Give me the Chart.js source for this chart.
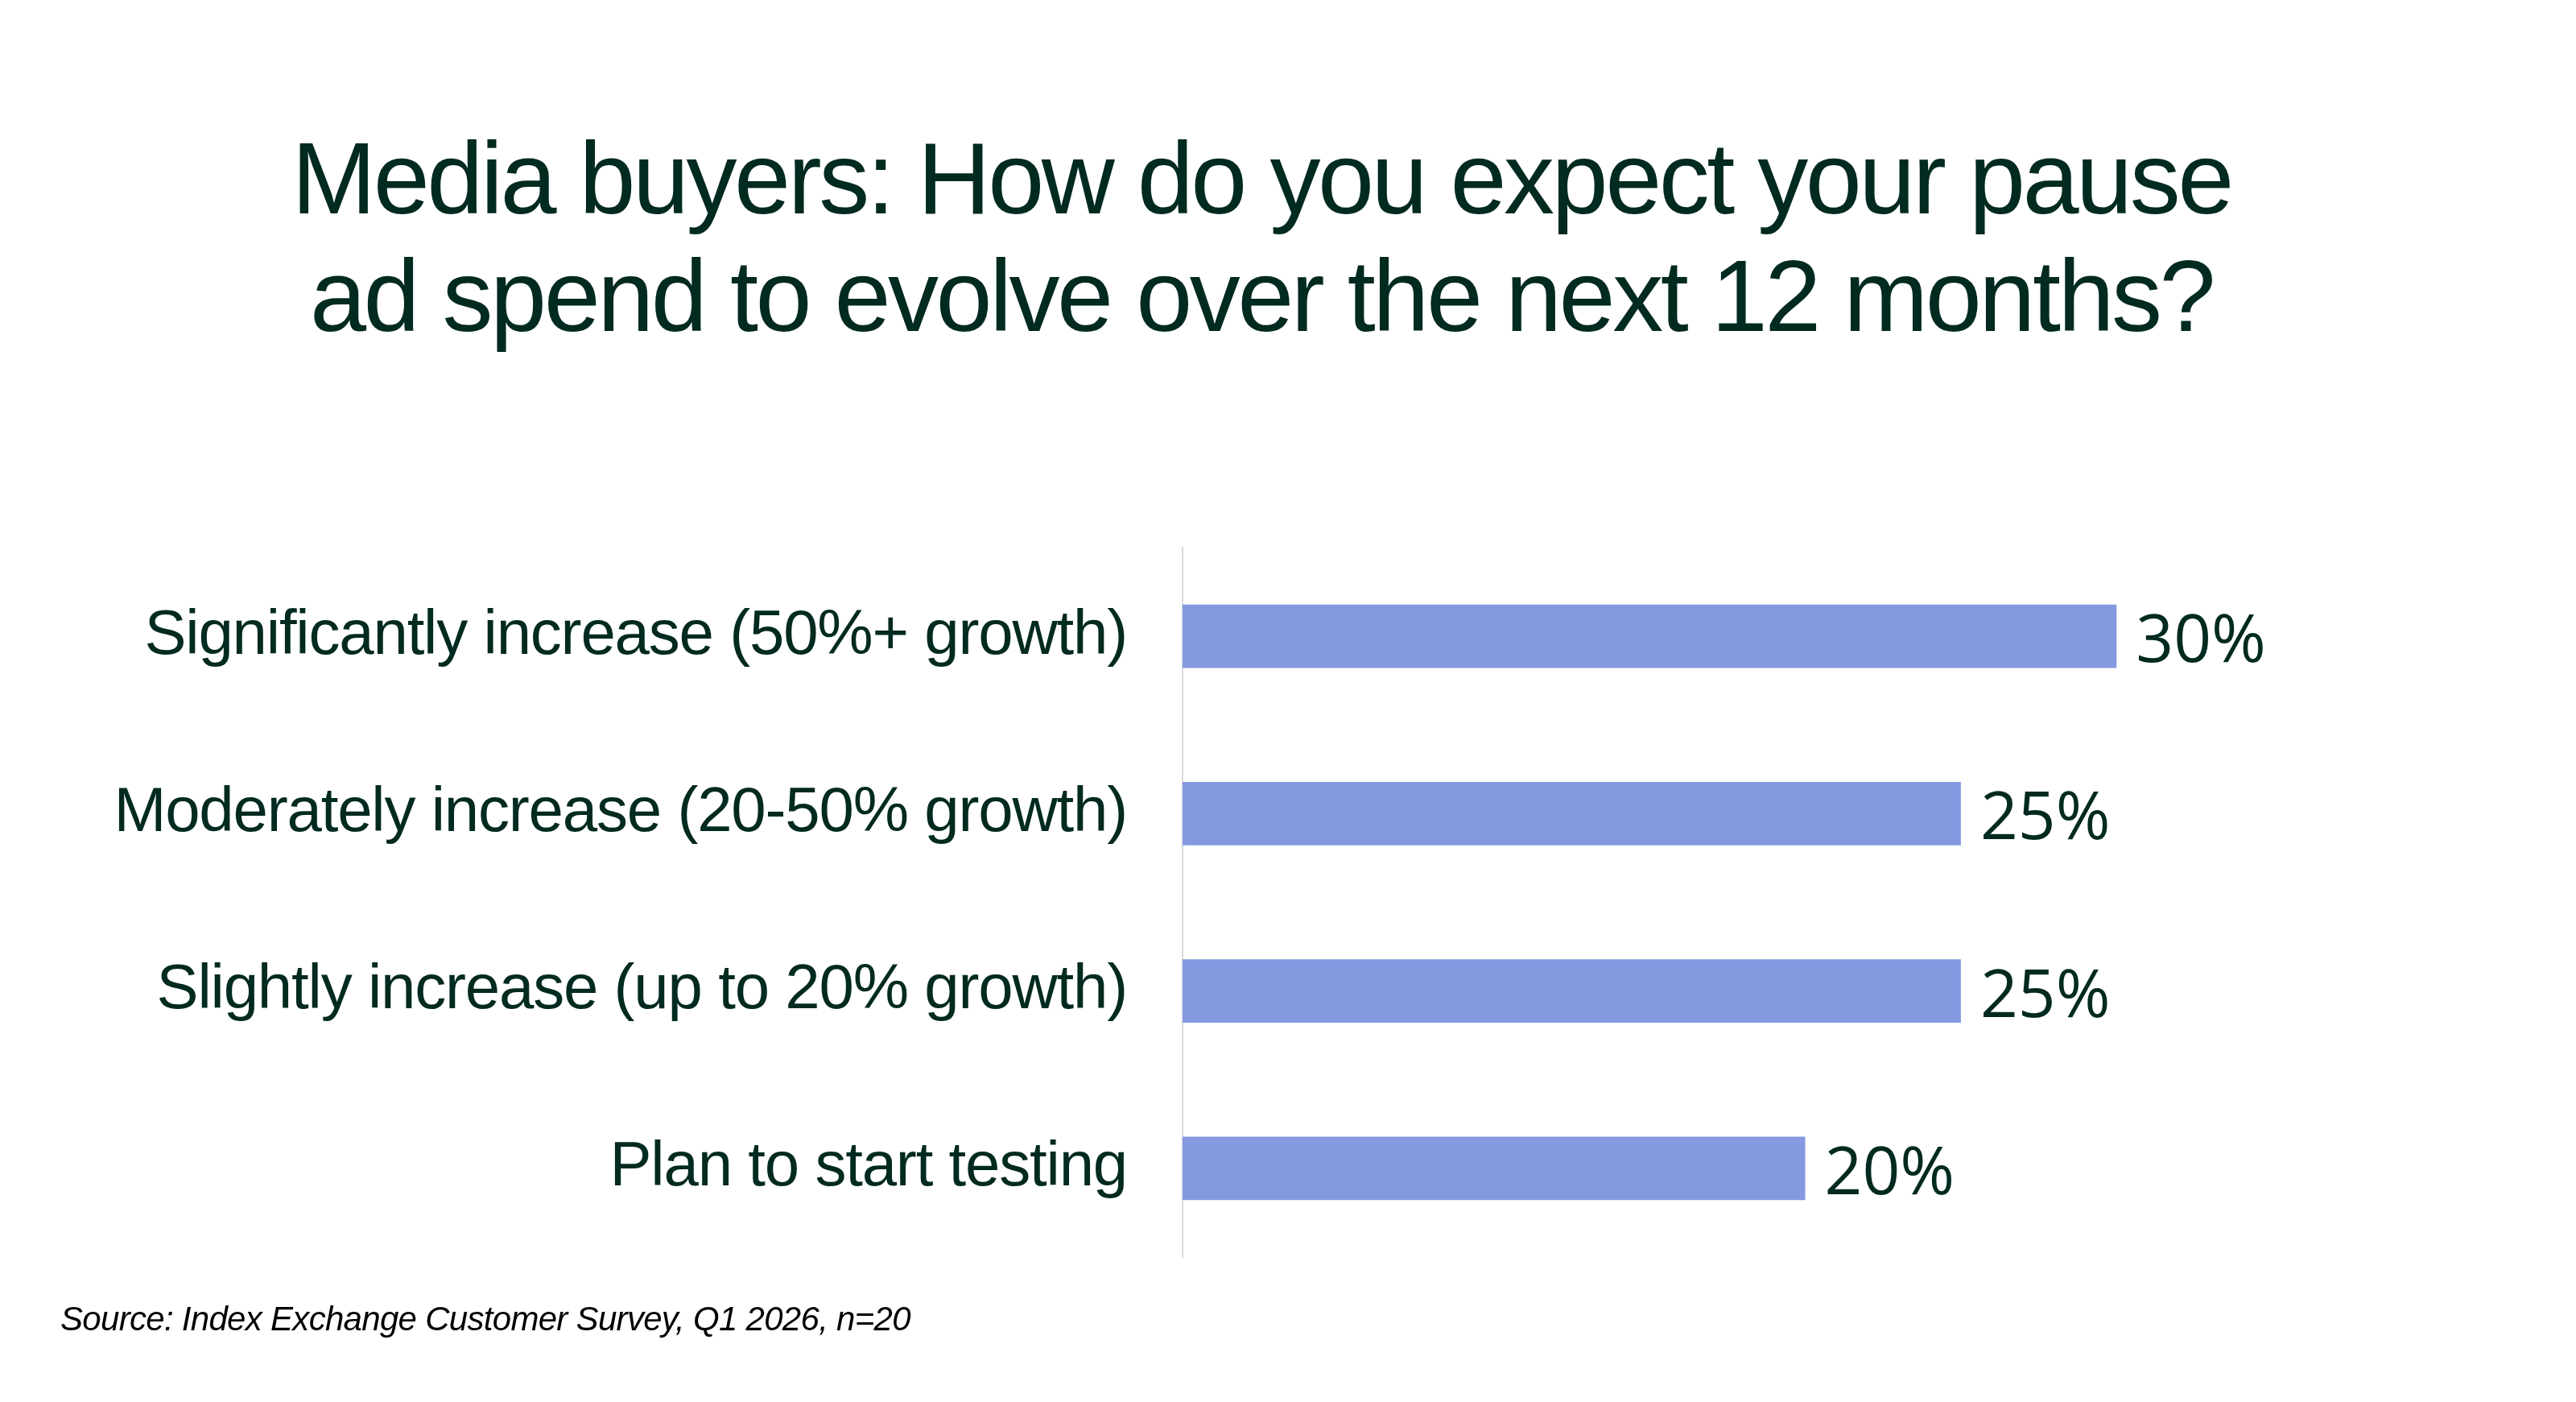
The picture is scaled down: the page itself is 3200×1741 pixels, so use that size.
<!DOCTYPE html>
<html>
<head>
<meta charset="utf-8">
<script src="https://cdn.jsdelivr.net/npm/chart.js@4/dist/chart.umd.min.js"></script>
<style>
  html, body { margin: 0; padding: 0; background: #ffffff; }
  body { width: 3200px; height: 1741px; position: relative; overflow: hidden; }
  #title {
    position: absolute; left: 0; top: 149px; width: 3134px; text-align: center;
    font-family: "Liberation Sans", Arial, sans-serif; font-size: 126px; line-height: 146px;
    letter-spacing: -3.5px; color: #012a20;
  }
  #source {
    position: absolute; left: 75px; top: 1617px;
    font-family: "Liberation Sans", Arial, sans-serif; font-style: italic; font-size: 42px; line-height: 42px;
    letter-spacing: -0.7px; color: #000000;
  }
  #wrap { position: absolute; left: 0; top: 0; width: 3200px; height: 1741px; }
</style>
</head>
<body>
<div id="title">Media buyers: How do you expect your pause<br>ad spend to evolve over the next 12 months?</div>
<div id="wrap"><canvas id="c"></canvas></div>
<div id="source">Source: Index Exchange Customer Survey, Q1 2026, n=20</div>
<script>
const categories = [
  "Significantly increase (50%+ growth)",
  "Moderately increase (20-50% growth)",
  "Slightly increase (up to 20% growth)",
  "Plan to start testing"
];
const values = [30, 25, 25, 20];
const valueSuffix = "%";

const textColor = "#012a20";
const barColor = "#8599e1";

const letterSpacingPlugin = {
  id: "letterSpacing",
  beforeDraw(chart) { chart.ctx.letterSpacing = "-1.2px"; }
};

const valueLabels = {
  id: "valueLabels",
  afterDatasetsDraw(chart) {
    const ctx = chart.ctx;
    const meta = chart.getDatasetMeta(0);
    ctx.save();
    ctx.letterSpacing = "0px";
    ctx.font = "82px 'Open Sans', 'Noto Sans', sans-serif";
    ctx.fillStyle = textColor;
    ctx.textAlign = "left";
    ctx.textBaseline = "alphabetic";
    meta.data.forEach((bar, i) => {
      ctx.fillText(values[i] + valueSuffix, bar.x + 24, bar.y + 32);
    });
    ctx.restore();
  }
};

new Chart(document.getElementById("c"), {
  type: "bar",
  data: {
    labels: categories,
    datasets: [{
      data: values,
      backgroundColor: barColor,
      borderWidth: 0,
      categoryPercentage: 1,
      barPercentage: 0.358
    }]
  },
  plugins: [letterSpacingPlugin, valueLabels],
  options: {
    indexAxis: "y",
    responsive: true,
    maintainAspectRatio: false,
    animation: false,
    layout: { padding: { top: 680, bottom: 180, left: 0, right: 184 } },
    plugins: { legend: { display: false }, tooltip: { enabled: false }, title: { display: false } },
    scales: {
      x: { display: false, min: 0, max: 40 },
      y: {
        afterFit(scale) { scale.width = 1469; },
        grid: { display: false, drawTicks: false },
        border: { display: true, color: "#d9d9d9", width: 2 },
        ticks: {
          padding: 69,
          color: textColor,
          font: { family: "'Liberation Sans', Arial, sans-serif", size: 78 }
        }
      }
    }
  }
});
</script>
</body>
</html>
